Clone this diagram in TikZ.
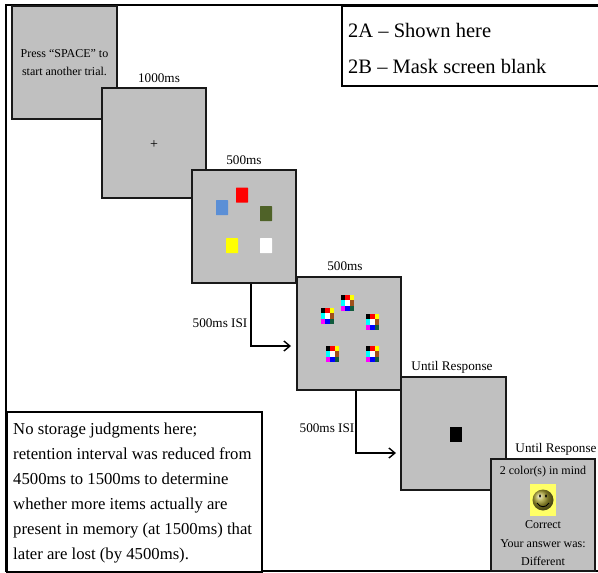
\documentclass[tikz,border=0pt]{standalone}
\usepackage{fontspec}
\setmainfont{Liberation Serif}
\usepackage{tikz}
\usetikzlibrary{positioning, arrows.meta}

\definecolor{screengray}{HTML}{C0C0C0}
\definecolor{itemblue}{HTML}{5B8FD6}
\definecolor{itemolive}{HTML}{4F6228}
\definecolor{itemyellow}{HTML}{FFFF00}
\definecolor{maskcyan}{HTML}{00FFFF}
\definecolor{maskmagenta}{HTML}{FF00FF}
\definecolor{maskbrown}{HTML}{A0501A}
\definecolor{maskgreen}{HTML}{0F5A3C}
\definecolor{smileback}{HTML}{FFFF66}
\definecolor{smileface}{HTML}{A8A030}

\tikzset{
  screen/.style={draw=black!90, line width=1.6pt, fill=screengray, minimum width=104pt, minimum height=112pt, inner sep=0pt, align=center, font=\fontsize{12}{18}\selectfont},
  timelabel/.style={inner sep=0pt, font=\fontsize{13.2}{14}\selectfont},
  colorsquare/.style={minimum width=12pt, minimum height=15pt, inner sep=0pt, rounded corners=0.5pt},
  notebox/.style={draw=black, line width=1.5pt, fill=white, inner sep=0pt, text depth=0pt},
  isiarrow/.style={line width=1.4pt, -{Straight Barb[length=6pt,width=10pt,line width=1.4pt]}},
  maskpatch/.pic={
    \foreach \cellc/\cx/\cy in {black/0/0, red/1/0, itemyellow/2/0, maskcyan/0/1, white/1/1, maskbrown/2/1, maskmagenta/0/2, blue/1/2, maskgreen/2/2}
      \fill[\cellc] (\cx*4.3,\cy*5.3) rectangle ++(4.4,5.4);
  }
}

\begin{document}
\begin{tikzpicture}[x=1pt, y=-1pt]
  \useasboundingbox (0,0) rectangle (598,573);
  \fill[white] (0,0) rectangle (598,573);
  \draw[line width=2pt] (598,5) -- (6,5) -- (6,571) -- (598,571);

  % the screens, each one over the one before
  \node[screen, line width=1.2pt, minimum width=105pt, minimum height=113pt] (press) at (64.5,62.5) {Press “SPACE” to\\start another trial.};
  \node[screen, minimum height=110pt] (fixation) at (154,143) {};
  \node[inner sep=0pt, font=\fontsize{14}{16}\selectfont] (plus) at (154,145) {+};
  \node[screen, minimum height=113pt] (colors) at (244,226.5) {};
  \node[screen, minimum height=113pt] (masks) at (349,333.5) {};
  \node[screen, minimum width=105pt, minimum height=113pt] (probe) at (453.5,433.5) {};
  \node[screen, minimum height=112pt] (feedback) at (543,515) {};

  \foreach \name/\col/\px/\py in {red/red/242/195, blue/itemblue/222/207.5, olive/itemolive/266/213.5, yellow/itemyellow/232/245.5, white/white/266/245.5}
    \node[colorsquare, fill=\col] (item\name) at (\px,\py) {};

  \foreach \px/\py in {341/295, 321/308, 366/314, 326/346, 366/346}
    \pic at (\px,\py) {maskpatch};

  \node[fill=black, minimum width=12pt, minimum height=15pt, inner sep=0pt] (target) at (456,434.5) {};

  % feedback screen
  \node[font=\fontsize{12}{14}\selectfont] (inmind) at (543,472) {2 color(s) in mind};
  \fill[smileback] (530,484) rectangle (556,516);
  \shade[ball color=smileface] (543,500) circle (10.5);
  \fill[black] (540,496) ellipse (1 and 1.8);
  \fill[black] (546,496) ellipse (1 and 1.8);
  \draw[black, line width=0.9pt] (537,503) .. controls (540,508) and (546,508) .. (549,503);
  \node[font=\fontsize{12}{14}\selectfont] (correct) at (543,525) {Correct};
  \node[font=\fontsize{12}{14}\selectfont] (answer) at (543,544) {Your answer was:};
  \node[font=\fontsize{12}{14}\selectfont] (different) at (543,561) {Different};

  % timing labels
  \node[timelabel] (timeA) at (159,78) {1000ms};
  \node[timelabel] (timeB) at (244,160) {500ms};
  \node[timelabel] (timeC) at (345,266) {500ms};
  \node[timelabel] (timeD) at (452,367) {Until Response};
  \node[timelabel] (timeE) at (556,449) {Until Response};

  % ISI arrows
  \coordinate (tipA) at (291,346);
  \coordinate (tipB) at (396,453);
  \coordinate (dropA) at (251,300);
  \coordinate (dropB) at (356,400);
  \draw[isiarrow] (dropA |- colors.south) |- (tipA);
  \draw[isiarrow] (dropB |- masks.south) |- (tipB);
  \node[timelabel] (isiA) at (220,323) {500ms ISI};
  \node[timelabel] (isiB) at (327,428) {500ms ISI};

  % the two text boxes
  \node[notebox, minimum width=257pt, minimum height=80pt, anchor=north west] (legend) at (341,5) {};
  \node[anchor=west, inner sep=0pt, font=\fontsize{20.5}{24}\selectfont] (shownhere) at (348,30) {2A – Shown here};
  \node[anchor=west, inner sep=0pt, font=\fontsize{20.5}{24}\selectfont] (maskblank) at (348,66) {2B – Mask screen blank};
  \node[notebox, minimum width=255pt, minimum height=160pt, anchor=north west] (notes) at (6,411) {};
  \node[anchor=west, align=left, inner sep=0pt, font=\fontsize{16.7}{25}\selectfont] (notestext) at (13,493.5) {No storage judgments here;\\retention interval was reduced from\\4500ms to 1500ms to determine\\whether more items actually are\\present in memory (at 1500ms) that\\later are lost (by 4500ms).};
\end{tikzpicture}
\end{document}
